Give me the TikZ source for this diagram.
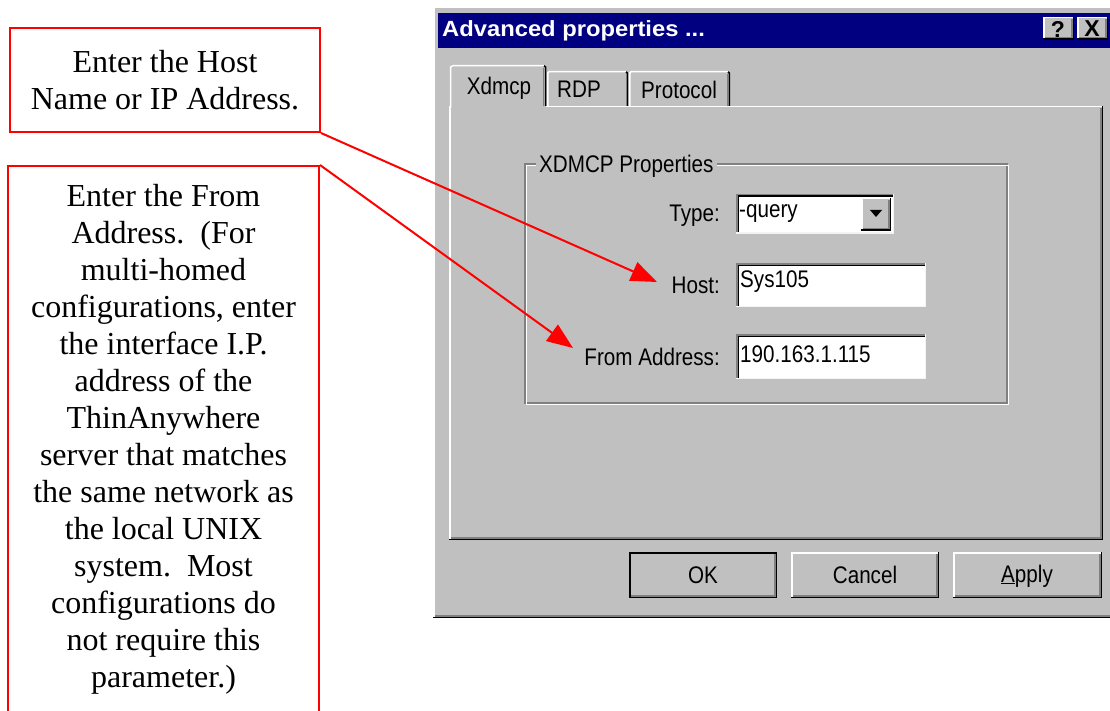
\documentclass[tikz,border=0pt]{standalone}
\usepackage{fontspec}
\setmainfont{Liberation Serif}
\newfontfamily\uifont{Liberation Sans}
\usetikzlibrary{arrows.meta}
\definecolor{winGray}{HTML}{C0C0C0}
\definecolor{winNavy}{HTML}{000080}
\definecolor{winDark}{HTML}{808080}
\definecolor{winLight}{HTML}{F4F4F4}
\newcommand{\ui}[1]{\scalebox{0.86}[1]{\uifont\fontsize{24}{26}\selectfont #1}}
\newcommand{\uititle}[1]{\scalebox{1.08}[1]{\uifont\bfseries\fontsize{22}{24}\selectfont #1}}
% raised 3D box: x1 y1 x2 y2 (y downward)
\newcommand{\raisedbox}[4]{%
  \fill[winGray] (#1,#2) rectangle (#3,#4);
  \draw[white, line width=1.5pt] (#1+0.75,#4-1) -- (#1+0.75,#2+0.75) -- (#3-1,#2+0.75);
  \draw[black, line width=1.5pt] (#1,#4-0.75) -- (#3-0.75,#4-0.75) -- (#3-0.75,#2);
  \draw[winDark, line width=1.5pt] (#1+2,#4-2.25) -- (#3-2.25,#4-2.25) -- (#3-2.25,#2+2);
}
% sunken white field
\newcommand{\sunkenbox}[4]{%
  \fill[white] (#1,#2) rectangle (#3,#4);
  \draw[winDark, line width=1.5pt] (#1+0.75,#4) -- (#1+0.75,#2+0.75) -- (#3,#2+0.75);
  \draw[black, line width=1.5pt] (#1+2.25,#4-1.5) -- (#1+2.25,#2+2.25) -- (#3-1.5,#2+2.25);
  \draw[winLight, line width=1.5pt] (#1,#4-0.75) -- (#3-0.75,#4-0.75) -- (#3-0.75,#2);
}
\begin{document}
\begin{tikzpicture}[x=1pt,y=-1pt,
  callout/.style={draw=red, line width=2pt, align=center, inner xsep=0pt,
    font=\fontsize{32}{37}\selectfont},
  pointer/.style={red, line width=2pt, -{Triangle[length=26pt,width=20pt]}},
  uilabel/.style={inner sep=0pt, text=black},
]
\useasboundingbox (0,0) rectangle (1110,711);
\fill[white] (0,0) rectangle (1110,711);

% ---------- dialog window ----------
\raisedbox{433}{7}{1120}{618}
\fill[winNavy] (438,13) rectangle (1120,48);
\node[uilabel, text=white, anchor=west] (title) at (442,31) {\uititle{Advanced properties ...}};
\raisedbox{1043}{17}{1074}{40}
\node[uilabel] (helpbtn) at (1058,29) {\uifont\bfseries\fontsize{23}{23}\selectfont ?};
\raisedbox{1077}{17}{1108}{40}
\node[uilabel] (closebtn) at (1092,29) {\uifont\bfseries\fontsize{23}{23}\selectfont X};

% tab panel
\raisedbox{449}{106}{1103}{540}
% unselected tabs
\fill[winGray] (547,106) -- (547,73) -- (549,71) -- (626,71) -- (628,73) -- (628,106) -- cycle;
\draw[white, line width=1.5pt] (547.75,106) -- (547.75,73) -- (549,71.75) -- (626,71.75);
\draw[black, line width=1.5pt] (626,71.75) -- (627.25,73) -- (627.25,106);
\fill[winGray] (629,106) -- (629,73) -- (631,71) -- (728,71) -- (730,73) -- (730,106) -- cycle;
\draw[white, line width=1.5pt] (629.75,106) -- (629.75,73) -- (631,71.75) -- (728,71.75);
\draw[black, line width=1.5pt] (728,71.75) -- (729.25,73) -- (729.25,106);
\draw[winDark, line width=1.2pt] (727.5,74) -- (727.5,106);
% selected tab
\fill[winGray] (450.5,109) -- (450.5,67) -- (453,65) -- (544,65) -- (546,67) -- (546,109) -- cycle;
\draw[white, line width=1.5pt] (450.5,108) -- (450.5,67) -- (453,65.75) -- (544,65.75);
\draw[black, line width=1.5pt] (544,65.75) -- (545.5,67) -- (545.5,106);
\draw[winDark, line width=1.2pt] (543.5,68) -- (543.5,106);
\node[uilabel] (tabx) at (499,88) {\ui{Xdmcp}};
\node[uilabel] (tabr) at (579,89) {\ui{RDP}};
\node[uilabel] (tabp) at (679,90) {\ui{Protocol}};

% group box
\draw[winDark, line width=1.5pt] (525,164) rectangle (1007,403);
\draw[white, line width=1.5pt] (526.5,165.5) rectangle (1008.5,404.5);
\node[uilabel, fill=winGray, inner xsep=3pt, anchor=west] (grouptitle) at (536,166) {\ui{XDMCP Properties}};

% Type combo
\node[uilabel, anchor=east] (typelbl) at (720,216) {\ui{Type:}};
\sunkenbox{736}{194}{894}{234}
\raisedbox{861}{198}{891}{231}
\fill[black] (870,210) -- (882,210) -- (876,217) -- cycle;
\node[uilabel, anchor=west] (typeval) at (739,214) {\ui{-query}};

% Host field
\node[uilabel, anchor=east] (hostlbl) at (720,285) {\ui{Host:}};
\sunkenbox{736}{263}{926}{307}
\node[uilabel, anchor=west] (hostval) at (740,282) {\ui{Sys105}};

% From address field
\node[uilabel, anchor=east] (fromlbl) at (720,357) {\ui{From Address:}};
\sunkenbox{736}{334}{926}{379}
\node[uilabel, anchor=west] (fromval) at (740,354) {\ui{190.163.1.115}};

% buttons
\raisedbox{629}{552}{777}{598}
\draw[black, line width=1.5pt] (629.75,552.75) rectangle (776.25,597.25);
\node[uilabel] (okbtn) at (703,575) {\ui{OK}};
\raisedbox{791}{552}{939}{598}
\node[uilabel] (cancelbtn) at (865,575) {\ui{Cancel}};
\raisedbox{953}{552}{1102}{598}
\node[uilabel] (applybtn) at (1027,576) {\ui{\underline{A}pply}};

% ---------- callouts ----------
\node[callout, minimum width=310pt, minimum height=104pt] (hostnote) at (165,80)
  {Enter the Host\\Name or IP Address.};
\node[callout, anchor=north, minimum width=311pt, inner ysep=18pt] (fromnote) at (163.5,165)
  {Enter the From\\Address.\ \ (For\\multi-homed\\configurations, enter\\the interface I.P.\\address of the\\ThinAnywhere\\server that matches\\the same network as\\the local UNIX\\system.\ \ Most\\configurations do\\not require this\\parameter.)\\\mbox{}};

\coordinate (hosttip) at (657,282);
\coordinate (fromtip) at (573,348);
\draw[pointer] (hostnote.south east) -- (hosttip);
\draw[pointer] (fromnote.north east) -- (fromtip);
\end{tikzpicture}
\end{document}
